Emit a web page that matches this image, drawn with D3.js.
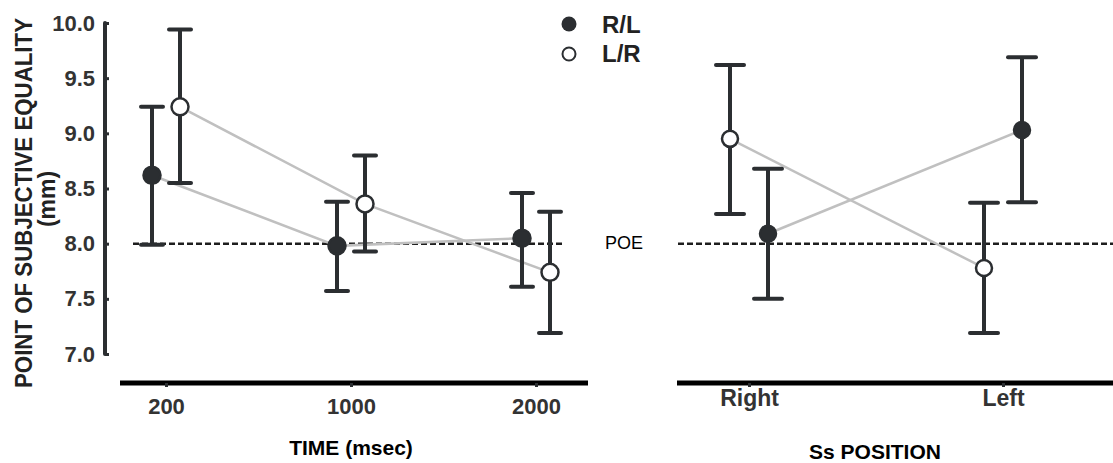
<!DOCTYPE html>
<html>
<head>
<meta charset="utf-8">
<script src="https://cdn.jsdelivr.net/npm/d3@7"></script>
<style>
  body { margin: 0; background: #fff; }
  svg { font-family: "Liberation Sans", Arial, sans-serif; }
</style>
</head>
<body>
<svg id="chart" width="1113" height="463"></svg>
<script>
// categories
var timeCats = ["200", "1000", "2000"];
var posCats = ["Right", "Left"];
var yTicks = [7.0, 7.5, 8.0, 8.5, 9.0, 9.5, 10.0];
var poe = 8.0;

// TIME panel
var timeRL = [8.62, 7.98, 8.05];
var timeRLlo = [7.99, 7.57, 7.61];
var timeRLhi = [9.24, 8.38, 8.46];
var timeLR = [9.24, 8.36, 7.74];
var timeLRlo = [8.55, 7.93, 7.19];
var timeLRhi = [9.94, 8.80, 8.29];

// Ss POSITION panel
var posRL = [8.09, 9.03];
var posRLlo = [7.50, 8.375];
var posRLhi = [8.68, 9.69];
var posLR = [8.95, 7.78];
var posLRlo = [8.27, 7.19];
var posLRhi = [9.62, 8.37];

var dark = "#2b2e31";
var svg = d3.select("#chart");

var yScale = d3.scaleLinear().domain([7, 10]).range([354, 23]);
var xTime = d3.scalePoint().domain(timeCats).range([166, 536]);
var xPos = d3.scalePoint().domain(posCats).range([749, 1003]);

function series(cats, mean, lo, hi) {
    return cats.map(function(c, i) {
        return {cat: c, m: mean[i], lo: lo[i], hi: hi[i]};
    });
}

function drawPanel(x, rl, lr, offRL, offLR, capW, r) {
    var line = d3.line()
        .x(function(d) { return x(d.cat) + d.off; })
        .y(function(d) { return yScale(d.m); });

    [[rl, offRL], [lr, offLR]].forEach(function(s) {
        var pts = s[0].map(function(d) { return Object.assign({off: s[1]}, d); });
        svg.append("path")
            .datum(pts)
            .attr("d", line)
            .style("fill", "none")
            .style("stroke", "#c0c0c0")
            .style("stroke-width", 2.5);
    });

    [[rl, offRL, dark], [lr, offLR, "#fff"]].forEach(function(s) {
        var g = svg.append("g");
        var off = s[1];
        g.selectAll(".bar")
            .data(s[0])
            .enter()
            .append("line")
            .attr("x1", function(d) { return x(d.cat) + off; })
            .attr("x2", function(d) { return x(d.cat) + off; })
            .attr("y1", function(d) { return yScale(d.lo); })
            .attr("y2", function(d) { return yScale(d.hi); })
            .style("stroke", dark)
            .style("stroke-width", 4);
        ["lo", "hi"].forEach(function(k) {
            g.selectAll(".cap" + k)
                .data(s[0])
                .enter()
                .append("line")
                .attr("x1", function(d) { return x(d.cat) + off - capW; })
                .attr("x2", function(d) { return x(d.cat) + off + capW; })
                .attr("y1", function(d) { return yScale(d[k]); })
                .attr("y2", function(d) { return yScale(d[k]); })
                .style("stroke", dark)
                .style("stroke-width", 4)
                .style("stroke-linecap", "round");
        });
        g.selectAll("circle")
            .data(s[0])
            .enter()
            .append("circle")
            .attr("cx", function(d) { return x(d.cat) + off; })
            .attr("cy", function(d) { return yScale(d.m); })
            .attr("r", r)
            .style("fill", s[2])
            .style("stroke", dark)
            .style("stroke-width", 2.5);
    });
}

// POE lines
svg.append("line")
    .attr("x1", 133).attr("x2", 565)
    .attr("y1", yScale(poe)).attr("y2", yScale(poe))
    .style("stroke", "#1e1e1e").style("stroke-width", 2.5)
    .style("stroke-dasharray", "6,3");
svg.append("line")
    .attr("x1", 678).attr("x2", 1113)
    .attr("y1", yScale(poe)).attr("y2", yScale(poe))
    .style("stroke", "#1e1e1e").style("stroke-width", 2.5)
    .style("stroke-dasharray", "6,3");
svg.append("text")
    .attr("x", 624).attr("y", 249)
    .style("text-anchor", "middle")
    .style("font-size", "18px")
    .text("POE");

drawPanel(xTime,
    series(timeCats, timeRL, timeRLlo, timeRLhi),
    series(timeCats, timeLR, timeLRlo, timeLRhi),
    -14, 14, 11, 8.5);
drawPanel(xPos,
    series(posCats, posRL, posRLlo, posRLhi),
    series(posCats, posLR, posLRlo, posLRhi),
    19, -19, 14, 8);

// y axis
var yAxis = g => g
    .attr("transform", "translate(105,0)")
    .call(d3.axisLeft(yScale).tickValues(yTicks).tickFormat(d3.format(".1f"))
        .tickSize(-4).tickPadding(10))
    .call(g => g.select(".domain").attr("d", "M0,23V354")
        .style("stroke", dark).style("stroke-width", 4).style("stroke-linecap", "round"))
    .call(g => g.selectAll(".tick line").style("stroke", dark).style("stroke-width", 3))
    .call(g => g.selectAll(".tick text")
        .style("font-family", "Liberation Sans, Arial, sans-serif")
        .style("font-size", "22px").style("font-weight", "bold").style("fill", "#333"));
svg.append("g").call(yAxis);

// x axes
function xAxisFor(x, x0, x1, pad, fs) {
    return g => g
        .attr("transform", "translate(0,383)")
        .call(d3.axisBottom(x).tickSize(4).tickPadding(pad))
        .call(g => g.select(".domain").attr("d", "M" + x0 + ",0H" + x1)
            .style("stroke", "#000").style("stroke-width", 5))
        .call(g => g.selectAll(".tick line").style("stroke", dark).style("stroke-width", 3))
        .call(g => g.selectAll(".tick text")
            .style("font-family", "Liberation Sans, Arial, sans-serif")
            .style("font-size", fs).style("font-weight", "bold").style("fill", "#333"));
}
svg.append("g").call(xAxisFor(xTime, 120, 588, 11, "22px"));
svg.append("g").call(xAxisFor(xPos, 677, 1113, 3, "23px"));

// axis titles
svg.append("text")
    .attr("x", 351).attr("y", 455)
    .style("text-anchor", "middle")
    .style("font-size", "21px")
    .style("font-weight", "bold")
    .text("TIME (msec)");
svg.append("text")
    .attr("x", 875).attr("y", 459)
    .style("text-anchor", "middle")
    .style("font-size", "21px")
    .style("font-weight", "bold")
    .text("Ss POSITION");
svg.append("text")
    .attr("transform", "translate(32,203) rotate(-90)")
    .style("text-anchor", "middle")
    .style("font-size", "23px")
    .style("font-weight", "bold")
    .style("fill", "#222")
    .attr("textLength", 370)
    .attr("lengthAdjust", "spacingAndGlyphs")
    .text("POINT OF SUBJECTIVE EQUALITY");
svg.append("text")
    .attr("transform", "translate(55,199) rotate(-90)")
    .style("text-anchor", "middle")
    .style("font-size", "23px")
    .style("font-weight", "bold")
    .style("fill", "#222")
    .text("(mm)");

// legend
svg.append("circle").attr("cx", 569).attr("cy", 24).attr("r", 7.5)
    .style("fill", dark);
svg.append("circle").attr("cx", 569).attr("cy", 54).attr("r", 6.5)
    .style("fill", "#fff").style("stroke", dark).style("stroke-width", 2);
svg.append("text").attr("x", 602).attr("y", 33)
    .style("font-size", "24px").style("font-weight", "bold").style("fill", "#222")
    .text("R/L");
svg.append("text").attr("x", 602).attr("y", 62)
    .style("font-size", "24px").style("font-weight", "bold").style("fill", "#222")
    .text("L/R");
</script>
</body>
</html>
